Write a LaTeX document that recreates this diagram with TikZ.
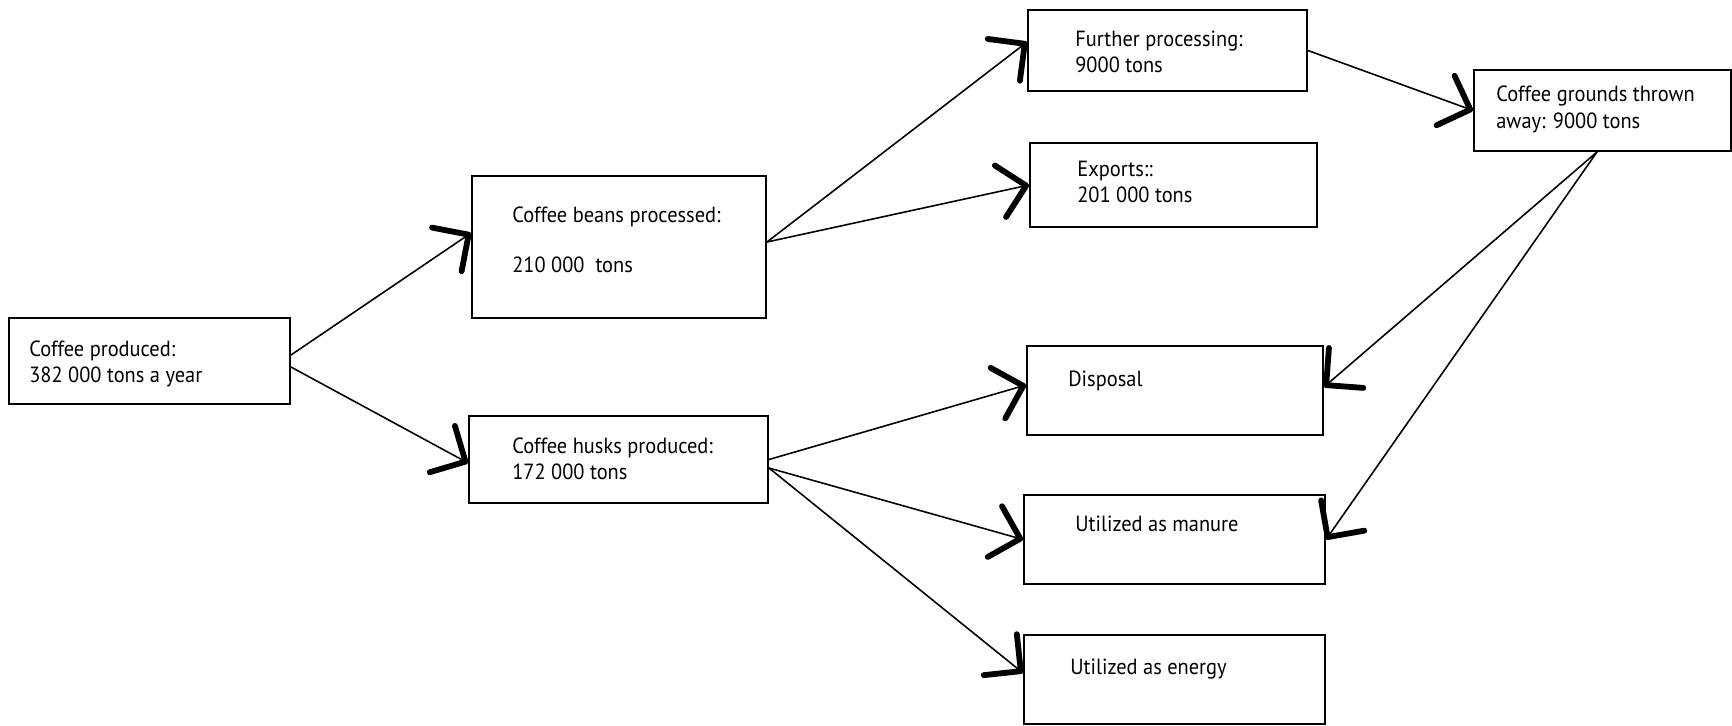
\documentclass[tikz,border=0pt]{standalone}
\usepackage{fontspec}
\setmainfont[FakeStretch=0.93]{PT Sans}
\usetikzlibrary{arrows.meta,fit}
\tikzset{
  box/.style={draw, line width=1.1pt, inner sep=0pt},
  txt/.style={anchor=north west, inner sep=0pt, align=left, font=\fontsize{12.5}{14.8}\selectfont},
  link/.style={line width=0.9pt, -{Straight Barb[length=15pt,width=30pt,line width=3.3pt,round]}}
}
\begin{document}
\begin{tikzpicture}[x=0.02cm, y=-0.02cm]
		\useasboundingbox (0,0) rectangle (1732,725);
		\node[box, fit={(9,318) (290,404)}] (prod) {};
		\node[box, fit={(472,176) (766,318)}] (beans) {};
		\node[box, fit={(469,416) (768,503)}] (husks) {};
		\node[box, fit={(1028,10) (1307,91)}] (further) {};
		\node[box, fit={(1030,143) (1317,227)}] (exports) {};
		\node[box, fit={(1474,70) (1731,151)}] (grounds) {};
		\node[box, fit={(1027,346) (1323,435)}] (disposal) {};
		\node[box, fit={(1024,495) (1325,584)}] (manure) {};
		\node[box, fit={(1024,635) (1325,724)}] (energy) {};
		\node[txt] (prod-t) at (29,340) {Coffee produced:\\382 000 tons a year};
		\node[txt] (beans-t) at (512,206) {Coffee beans processed:\\[5mm]210 000\ \ tons};
		\node[txt] (husks-t) at (512,437) {Coffee husks produced:\\172 000 tons};
		\node[txt] (further-t) at (1075,31) {Further processing:\\9000 tons};
		\node[txt] (exports-t) at (1077,161) {Exports::\\201 000 tons};
		\node[txt] (grounds-t) at (1496,86) {Coffee grounds thrown\\away: 9000 tons};
		\node[txt] (disposal-t) at (1068,371) {Disposal};
		\node[txt] (manure-t) at (1075,516) {Utilized as manure};
		\node[txt] (energy-t) at (1070,659) {Utilized as energy};
		\draw[link] ([yshift=1.2mm]prod.east) -- ([yshift=2.8mm]beans.west);
		\draw[link] ([yshift=-1.2mm]prod.east) -- ([yshift=-0.7mm]husks.west);
		\draw[link] ([yshift=1mm]beans.east) -- ([yshift=1.7mm]further.west);
		\draw[link] ([yshift=1mm]beans.east) -- (exports.west);
		\draw[link] (further.east) -- (grounds.west);
		\draw[link] (husks.east) -- ([yshift=1.1mm]disposal.west);
		\draw[link] ([yshift=-1.7mm]husks.east) -- (manure.west);
		\draw[link] ([yshift=-1.7mm]husks.east) -- ([yshift=1.3mm]energy.west);
		\draw[link] ([xshift=-1.1mm]grounds.south) -- ([yshift=0.7mm]disposal.east);
		\draw[link] ([xshift=-1.1mm]grounds.south) -- (manure.east);
\end{tikzpicture}
\end{document}
